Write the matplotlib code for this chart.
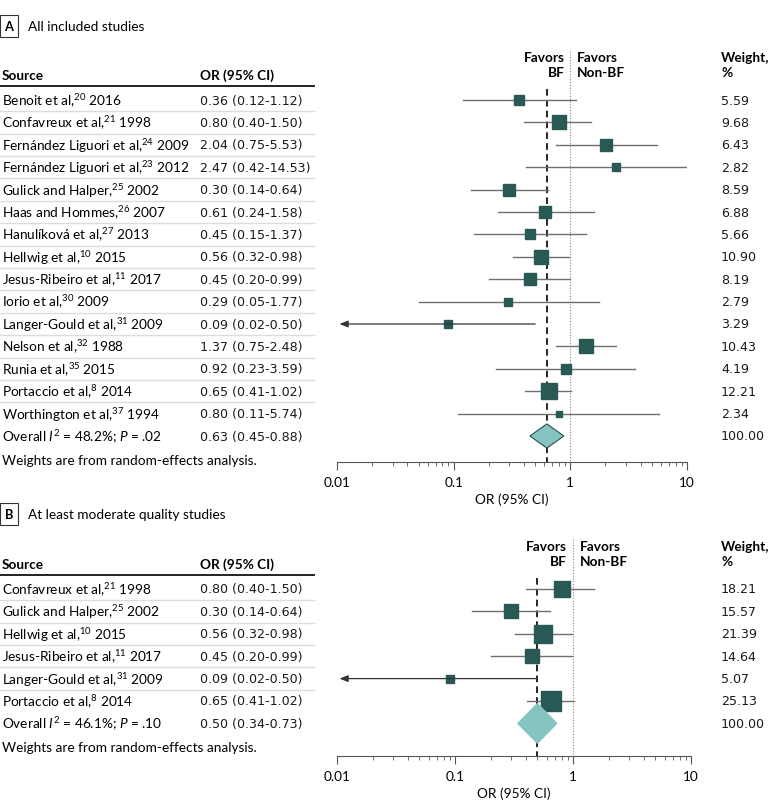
import numpy as np
import matplotlib
matplotlib.use("Agg")
import matplotlib.pyplot as plt
import matplotlib.transforms as mtransforms

plt.rcParams['font.family'] = ['Lato', 'DejaVu Sans']
plt.rcParams['mathtext.fontset'] = 'custom'
plt.rcParams['mathtext.rm'] = 'Lato'
plt.rcParams['mathtext.it'] = 'Lato:italic'
plt.rcParams['mathtext.bf'] = 'Lato:bold'

# ---- data: panel A ----
src_a = ["Benoit et al,$^{20}$ 2016", "Confavreux et al,$^{21}$ 1998",
         "Fernández Liguori et al,$^{24}$ 2009", "Fernández Liguori et al,$^{23}$ 2012",
         "Gulick and Halper,$^{25}$ 2002", "Haas and Hommes,$^{26}$ 2007",
         "Hanulíková et al,$^{27}$ 2013", "Hellwig et al,$^{10}$ 2015",
         "Jesus-Ribeiro et al,$^{11}$ 2017", "Iorio et al,$^{30}$ 2009",
         "Langer-Gould et al,$^{31}$ 2009", "Nelson et al,$^{32}$ 1988",
         "Runia et al,$^{35}$ 2015", "Portaccio et al,$^{8}$ 2014",
         "Worthington et al,$^{37}$ 1994"]
or_a = [0.36, 0.80, 2.04, 2.47, 0.30, 0.61, 0.45, 0.56, 0.45, 0.29, 0.09, 1.37, 0.92, 0.65, 0.80]
lo_a = [0.12, 0.40, 0.75, 0.42, 0.14, 0.24, 0.15, 0.32, 0.20, 0.05, 0.02, 0.75, 0.23, 0.41, 0.11]
hi_a = [1.12, 1.50, 5.53, 14.53, 0.64, 1.58, 1.37, 0.98, 0.99, 1.77, 0.50, 2.48, 3.59, 1.02, 5.74]
w_a = [5.59, 9.68, 6.43, 2.82, 8.59, 6.88, 5.66, 10.90, 8.19, 2.79, 3.29, 10.43, 4.19, 12.21, 2.34]
overall_a = (0.63, 0.45, 0.88)
overall_lbl_a = "Overall $I^2$ = 48.2%; $P$ = .02"

# ---- data: panel B ----
src_b = ["Confavreux et al,$^{21}$ 1998", "Gulick and Halper,$^{25}$ 2002",
         "Hellwig et al,$^{10}$ 2015", "Jesus-Ribeiro et al,$^{11}$ 2017",
         "Langer-Gould et al,$^{31}$ 2009", "Portaccio et al,$^{8}$ 2014"]
or_b = [0.80, 0.30, 0.56, 0.45, 0.09, 0.65]
lo_b = [0.40, 0.14, 0.32, 0.20, 0.02, 0.41]
hi_b = [1.50, 0.64, 0.98, 0.99, 0.50, 1.02]
w_b = [18.21, 15.57, 21.39, 14.64, 5.07, 25.13]
overall_b = (0.50, 0.34, 0.73)
overall_lbl_b = "Overall $I^2$ = 46.1%; $P$ = .10"

W, H = 783, 812
fig = plt.figure(figsize=(W / 100, H / 100), dpi=100)

SQ = '#285955'
DIA = '#86c4c2'
FS = 9.8          # text
NUM = dict(fontfamily='DejaVu Sans', fontsize=9.1, color='#1a1a1a')   # numeric columns


def fy(p):
    return 1 - p / H


def panel(letter, title, title_y, srcs, ors, los, his, ws, overall, overall_lbl,
          x0, x1, row0, ax_bottom, ax_top, sq_k, dia_half, dia_edge):
    step = 22.4
    r = lambda p: (p - row0) / step
    ax = fig.add_axes([x0 / W, fy(ax_bottom), (x1 - x0) / W, (ax_bottom - ax_top) / H])
    ax.set_xscale('log')
    ax.set_xlim(0.01, 10)
    ax.set_ylim(r(ax_bottom), r(ax_top))
    for s in ['top', 'left', 'right']:
        ax.spines[s].set_visible(False)
    ax.spines['bottom'].set_color('#555555')
    ax.set_yticks([])
    ax.set_xticks([0.01, 0.1, 1, 10])
    ax.set_xticklabels(['0.01', '0.1', '1', '10'])
    ax.tick_params(axis='x', which='major', length=6, color='#555555', labelsize=FS, pad=4)
    ax.tick_params(axis='x', which='minor', length=3, color='#555555')
    ax.set_xlabel('OR (95% CI)', fontsize=FS, labelpad=3)
    ax.patch.set_alpha(0)

    tr = mtransforms.blended_transform_factory(fig.transFigure, ax.transData)
    n = len(srcs)

    # title with boxed letter
    fig.text(9 / W, fy(title_y), letter, fontsize=FS - 0.5, fontweight='bold', ha='center',
             va='center', bbox=dict(boxstyle='square,pad=0.35', fc='white', ec='#333333', lw=0.8))
    fig.text(28 / W, fy(title_y), title, fontsize=FS, va='center')

    # table header
    hdr = r(row0) - 1.12
    ax.text(2 / W, hdr, 'Source', transform=tr, fontsize=FS, fontweight='bold', va='center')
    ax.text(200 / W, hdr, 'OR (95% CI)', transform=tr, fontsize=FS, fontweight='bold', va='center')
    ax.plot([0, 314 / W], [-0.62, -0.62], transform=tr, color='#222222', lw=1.4, clip_on=False)

    left = mtransforms.offset_copy(ax.transData, fig=fig, x=-6, y=0, units='dots')
    right = mtransforms.offset_copy(ax.transData, fig=fig, x=7, y=0, units='dots')
    ax.text(1, -1.92, 'Favors', fontsize=FS, fontweight='bold', ha='right', va='center', transform=left)
    ax.text(1, -1.25, 'BF', fontsize=FS, fontweight='bold', ha='right', va='center', transform=left)
    ax.text(1, -1.92, 'Favors', fontsize=FS, fontweight='bold', ha='left', va='center', transform=right)
    ax.text(1, -1.25, 'Non-BF', fontsize=FS, fontweight='bold', ha='left', va='center', transform=right)
    ax.text(721 / W, -1.92, 'Weight,', transform=tr, fontsize=FS, fontweight='bold', va='center')
    ax.text(721 / W, -1.25, '%', transform=tr, fontsize=FS, fontweight='bold', va='center')

    # reference lines
    ax.plot([1, 1], [r(ax_top) + 0.1, r(ax_bottom)], color='#888888', lw=0.8, ls=(0, (1, 1.5)))
    ax.plot([overall[0]] * 2, [-0.5, r(ax_bottom)], color='black', lw=1.2, ls=(0, (4, 2.5)))

    for i in range(n):
        ax.text(2 / W, i, srcs[i], transform=tr, fontsize=FS, va='center')
        ax.text(200 / W, i, f"{ors[i]:.2f} ({los[i]:.2f}-{his[i]:.2f})", transform=tr,
                va='center', **NUM)
        ax.text(721 / W, i, f"{ws[i]:.2f}", transform=tr, va='center', **NUM)
        if i < n - 1:
            ax.plot([0, 314 / W], [i + 0.5, i + 0.5], transform=tr, color='#dcdcdc', lw=1,
                    clip_on=False)
        if los[i] <= 0.02:
            ax.annotate('', xy=(0.0105, i), xytext=(his[i], i),
                        arrowprops=dict(arrowstyle='-|>,head_length=0.5,head_width=0.2',
                                        color='#333333', lw=0.9, shrinkA=0, shrinkB=0))
        else:
            ax.plot([los[i], his[i]], [i, i], color='#6f6f6f', lw=1)
        ax.plot(ors[i], i, marker='s', ms=sq_k * np.sqrt(ws[i]) / 1.389, color=SQ, mec=SQ)

    # overall row
    ax.text(2 / W, n, overall_lbl, transform=tr, fontsize=FS, va='center')
    ax.text(200 / W, n, f"{overall[0]:.2f} ({overall[1]:.2f}-{overall[2]:.2f})", transform=tr,
            va='center', **NUM)
    ax.text(721 / W, n, f"{100:.2f}", transform=tr, va='center', **NUM)
    ax.fill([overall[1], overall[0], overall[2], overall[0]],
            [n, n - dia_half, n, n + dia_half], fc=DIA,
            ec=dia_edge if dia_edge else DIA, lw=0.8, zorder=4)
    ax.text(2 / W, n + 1.05, 'Weights are from random-effects analysis.', transform=tr,
            fontsize=FS, va='center')
    return ax


panel('A', 'All included studies', 27, src_a, or_a, lo_a, hi_a, w_a, overall_a, overall_lbl_a,
      337, 687, 101, 463, 50, 4.4, 0.54, '#2d4f4d')
panel('B', 'At least moderate quality studies', 515, src_b, or_b, lo_b, hi_b, w_b, overall_b,
      overall_lbl_b, 337, 691, 590, 757, 538, 3.8, 0.89, None)

fig.savefig('out.png', dpi=100)
